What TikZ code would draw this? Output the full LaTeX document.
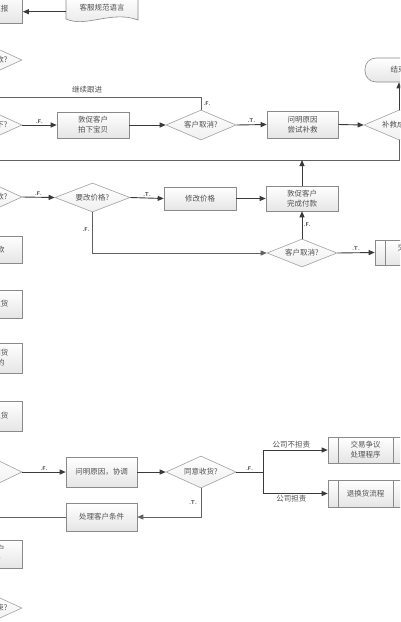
\documentclass[tikz,border=0pt]{standalone}
\usepackage{fontspec}
\setmainfont{Liberation Serif}
\newfontfamily\cjk{Noto Sans CJK SC}
\usetikzlibrary{shapes.geometric,arrows.meta}
\definecolor{txt}{HTML}{505050}
\definecolor{edge}{HTML}{8A8A8A}
\definecolor{ln}{HTML}{3A3A3A}
\tikzset{
  box/.style={rectangle, draw=edge, line width=0.6pt, top color=white, bottom color=black!10,
    align=center, inner sep=1pt, font=\cjk\fontsize{7.5}{10}\selectfont, text=txt},
  dia/.style={diamond, draw=edge!80, line width=0.6pt, top color=white, bottom color=black!6,
    inner sep=0pt, shape aspect=2.3, align=center, font=\cjk\fontsize{7.5}{10}\selectfont, text=txt},
  pp/.style={box},
  term/.style={box, rounded corners=11pt},
  arr/.style={draw=ln, line width=0.9pt, -{Triangle[length=6pt,width=5pt]}},
  conn/.style={draw=ln!80, line width=0.7pt},
  lab/.style={font=\sffamily\bfseries\fontsize{5.5}{6}\selectfont, text=ln, inner sep=1.5pt},
  cl/.style={font=\cjk\fontsize{7.5}{9}\selectfont, text=txt, inner sep=1.5pt},
}
\begin{document}
\begin{tikzpicture}[x=1pt,y=-1pt]
\useasboundingbox (0,0) rectangle (400,622);
\fill[white] (0,0) rectangle (400,622);
\clip (0,0) rectangle (400,622);

% left column (clipped by the frame, as in the reference)
\node[box, minimum width=73pt, minimum height=29pt] (lt) at (-14,8.5) {客服主管汇报};
\node[dia, minimum width=70pt, minimum height=32pt] (d1) at (-13,60) {客户已付款?};
\node[dia, minimum width=70pt, minimum height=32pt] (d2) at (-13,125) {客户已拍下?};
\node[dia, minimum width=70pt, minimum height=32pt] (d3) at (-13,197) {客户已付款?};
\node[box, minimum width=73pt, minimum height=27pt] (l1) at (-14,249.5) {待买家付款};
\node[box, minimum width=73pt, minimum height=28pt] (l2) at (-14,304) {卖家已经发货};
\node[box, minimum width=73pt, minimum height=30pt] (l3) at (-14,358) {买家已收到货\\存在问题的};
\node[box, minimum width=73pt, minimum height=30pt] (l4) at (-14,416) {买家要求退货};
\node[dia, minimum width=70pt, minimum height=34pt] (d4) at (-13,472) {已收货?};
\node[box, minimum width=73pt, minimum height=28pt] (l5) at (-14,554) {已通知客户\\售后任务};
\node[dia, minimum width=70pt, minimum height=32pt] (d5) at (-13,608) {交易已结束?};

% document shape
\draw[draw=edge, line width=0.6pt, top color=white, bottom color=black!10]
  (66,-3) -- (66,19) .. controls (86,28) and (112,10) .. (138,20) -- (138,-3) -- cycle;
\node[cl, minimum width=72pt, minimum height=22pt] (doc) at (102,8) {客服规范语言};
\draw[arr] (66,11.7) -- (lt.east |- 0,11.7);

% row 125
\node[box, minimum width=72pt, minimum height=26pt] (b1) at (93,125) {敦促客户\\拍下宝贝};
\node[dia, minimum width=70pt, minimum height=30pt] (c1) at (201,125) {客户取消?};
\node[box, minimum width=71pt, minimum height=27pt] (b2) at (302.5,124.5) {问明原因\\尝试补救};
\node[dia, minimum width=70pt, minimum height=30pt] (c2) at (399,125) {补救成功?};
\node[term, minimum width=66pt, minimum height=24pt] (end) at (398,70) {结束};

\draw[arr] (d2.east) -- node[lab,above]{.F.} (b1.west);
\draw[arr] (b1.east) -- (c1.west);
\draw[arr] (c1.east) -- node[lab,above]{.T.} (b2.west);
\draw[arr] (b2.east) -- (c2.west);
\draw[arr] (c2.north) -- (c2.north |- end.south);

\coordinate (cont) at (-10,97);
\draw[conn] (c1.north) -- (c1.north |- cont) -- (cont);
\node[cl] (gj) at (87,90) {继续跟进};
\node[lab] (f1) at (207,104) {.F.};

\coordinate (loop) at (-10,160);
\draw[conn] (c2.south) -- (c2.south |- loop) -- (loop);

% row 197
\node[dia, minimum width=75pt, minimum height=29pt] (c3) at (92.5,197.5) {要改价格?};
\node[box, minimum width=72pt, minimum height=23pt] (b3) at (200,198.5) {修改价格};
\node[box, minimum width=72pt, minimum height=25pt] (b4) at (302,198.5) {敦促客户\\完成付款};
\node[dia, minimum width=70pt, minimum height=28pt] (c4) at (302,253) {客户取消?};
\node[box, minimum width=75pt, minimum height=25pt, text width=40pt] (p1) at (412.5,252.5) {交易关闭\\处理};
\draw[edge, line width=0.6pt] (385,240) -- (385,265);

\draw[arr] (d3.east) -- node[lab,above]{.F.} (c3.west);
\draw[arr] (c3.east) -- node[lab,above]{.T.} (b3.west);
\draw[arr] (b3.east) -- (b4.west);
\draw[arr] (b4.north) -- (b4.north |- loop);
\draw[arr, draw=ln!80, line width=0.7pt] (c3.south) |- (c4.west);
\node[lab] (f2) at (86,230) {.F.};
\draw[arr] (c4.north) -- node[lab,right]{.F.} (b4.south);
\draw[arr] (c4.east) -- node[lab,above]{.T.} (p1.west);

% row 472
\node[box, minimum width=71pt, minimum height=30pt] (b5) at (101.5,472) {问明原因，协调};
\node[dia, minimum width=70pt, minimum height=32pt] (c5) at (201,472) {同意收货?};
\coordinate (fork) at (263,472);
\node[pp, minimum width=75pt, minimum height=26pt] (p2) at (365.5,450) {交易争议\\处理程序};
\node[pp, minimum width=75pt, minimum height=27pt] (p3) at (365.5,493.5) {退换货流程};
\draw[edge, line width=0.6pt] (338,437) -- (338,463) (393,437) -- (393,463);
\draw[edge, line width=0.6pt] (338,480) -- (338,507) (393,480) -- (393,507);
\node[box, minimum width=71pt, minimum height=28pt] (b6) at (101.5,517) {处理客户条件};

\draw[arr] (d4.east) -- node[lab,above]{.F.} (b5.west);
\draw[arr] (b5.east) -- (c5.west);
\draw[conn, line width=0.9pt, draw=ln] (c5.east) -- node[lab,above]{.F.} (fork);
\draw[arr] (fork) |- node[cl, pos=0.72, above]{公司不担责} (p2.west);
\draw[arr] (fork) |- node[cl, pos=0.72, below]{公司担责} (p3.west);
\draw[arr, draw=ln!80, line width=0.7pt] (c5.south) |- (b6.east);
\node[lab] (t5) at (193,503) {.T.};
\coordinate (out) at (-10,517);
\draw[conn] (b6.west) -- (out);
\end{tikzpicture}
\end{document}
